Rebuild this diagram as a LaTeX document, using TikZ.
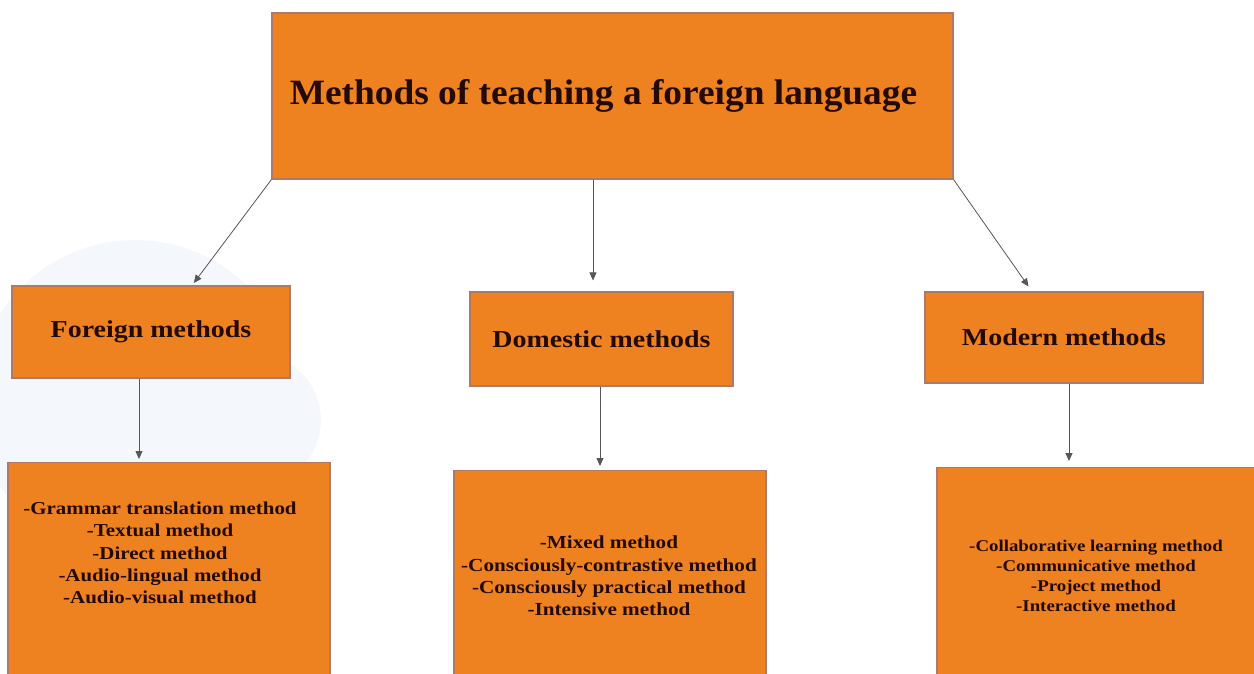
\documentclass[tikz,border=0pt]{standalone}
\usepackage{fontspec}
\setmainfont{Liberation Serif}[FakeStretch=1.15]
\newfontfamily\headfont{Liberation Serif}[FakeStretch=1.05]
\usepackage{xcolor}
\usepackage{tikz}
\usetikzlibrary{arrows.meta, positioning}

\definecolor{boxorange}{RGB}{238,129,32}
\definecolor{boxedge}{RGB}{176,120,104}
\definecolor{textdark}{RGB}{36,10,5}
\definecolor{linkgray}{RGB}{85,85,90}
\definecolor{watermark}{RGB}{244,247,251}

\tikzset{
    methodbox/.style={draw=boxedge, line width=1.2pt, fill=boxorange, text=textdark, inner sep=0pt},
    itemlist/.style={text=textdark, align=center, inner sep=0pt},
    link/.style={-{Triangle[length=8pt, width=7pt]}, draw=linkgray, line width=0.8pt}
}

\begin{document}
\begin{tikzpicture}[x=1pt, y=-1pt]
    \useasboundingbox (0,0) rectangle (1254,673);

    % faint circles in the background
    \fill[watermark] (135,400) circle (160);
    \fill[watermark] (255,420) circle (66);

    % Root of the chart
    \node[methodbox, minimum width=681pt, minimum height=166pt,
          font=\headfont\bfseries\fontsize{35.6}{40}\selectfont] (root) at (612.5,96)
          {Methods of teaching a foreign language\hspace*{18pt}};

    % Three groups of methods
    \node[methodbox, minimum width=278pt, minimum height=92pt,
          font=\bfseries\fontsize{24.3}{28}\selectfont] (foreign) at (151,332) {Foreign methods};
    \node[methodbox, minimum width=263pt, minimum height=94pt,
          font=\bfseries\fontsize{24.3}{28}\selectfont] (domestic) at (601.5,339) {Domestic methods};
    \node[methodbox, minimum width=278pt, minimum height=91pt,
          font=\bfseries\fontsize{24.3}{28}\selectfont] (modern) at (1064,337.5) {Modern methods};

    % Lists of methods (boxes run off the bottom edge)
    \node[methodbox, anchor=north, minimum width=322pt, minimum height=220pt] (foreignlist) at (169,462) {};
    \node[methodbox, anchor=north, minimum width=312pt, minimum height=212pt] (domesticlist) at (610,470) {};
    \node[methodbox, anchor=north, minimum width=320pt, minimum height=215pt] (modernlist) at (1097,467) {};

    \node[itemlist, font=\bfseries\fontsize{18.2}{22.3}\selectfont] (foreignitems) at (160,553)
        {-Grammar translation method\\-Textual method\\-Direct method\\-Audio-lingual method\\-Audio-visual method};
    \node[itemlist, font=\bfseries\fontsize{18.4}{22.3}\selectfont] (domesticitems) at (609,576)
        {-Mixed method\\-Consciously-contrastive method\\-Consciously practical method\\-Intensive method};
    \node[itemlist, font=\bfseries\fontsize{16.4}{20}\selectfont] (modernitems) at (1096,576)
        {-Collaborative learning method\\-Communicative method\\-Project method\\-Interactive method};

    % Connectors
    \draw[link, shorten >=3pt] (root.south west) -- ([xshift=41pt]foreign.north);
    \draw[link, shorten >=11pt] ([xshift=-19.5pt]root.south) -- ([xshift=-8.5pt]domestic.north);
    \draw[link, shorten >=6pt] (root.south east) -- ([xshift=-32pt]modern.north);

    \draw[link, shorten >=3pt] ([xshift=-12pt]foreign.south) -- ([xshift=-12pt]foreign.south |- foreignlist.north);
    \draw[link, shorten >=4pt] ([xshift=-1.5pt]domestic.south) -- ([xshift=-1.5pt]domestic.south |- domesticlist.north);
    \draw[link, shorten >=6pt] ([xshift=5pt]modern.south) -- ([xshift=5pt]modern.south |- modernlist.north);

\end{tikzpicture}
\end{document}
